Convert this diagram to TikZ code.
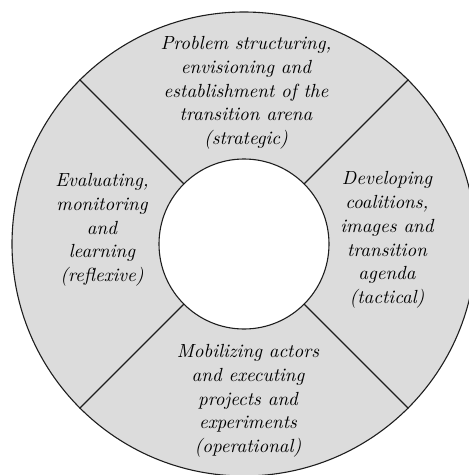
\documentclass[tikz,border=0pt]{standalone}
\usepackage{fontspec}
\newfontfamily\tenit{lmroman10-italic.otf}
\definecolor{ringgray}{RGB}{220,220,220}
\definecolor{edgecol}{RGB}{30,30,30}
\tikzset{
  ringline/.style={draw=edgecol, line width=1.1pt},
  phase/.style={align=center, inner sep=0pt, font=\fontsize{19}{23.7}\tenit}
}
\begin{document}
\begin{tikzpicture}[x=1pt,y=-1pt]
\useasboundingbox (0,0) rectangle (469,475);
\clip (0,0) rectangle (469,475);
\node[circle, ringline, fill=ringgray, minimum size=464pt, inner sep=0pt] (ring) at (244,244) {};
\node[circle, minimum size=170pt, inner sep=0pt] (hubpos) at (244,244) {};
\draw[ringline] (hubpos.135) -- (ring.135);
\draw[ringline] (hubpos.45) -- (ring.45);
\draw[ringline] (hubpos.225) -- (ring.225);
\draw[ringline] (hubpos.315) -- (ring.315);
\node[circle, ringline, fill=white, minimum size=170pt, inner sep=0pt] (hub) at (244,244) {};
\node[phase] (top) at (246,93) {Problem structuring,\\envisioning and\\establishment of the\\transition arena\\(strategic)};
\node[phase] (right) at (387,240) {Developing\\coalitions,\\images and\\transition\\agenda\\(tactical)};
\node[phase] (left) at (102,230) {Evaluating,\\monitoring\\and\\learning\\(reflexive)};
\node[phase] (bottom) at (248,401) {Mobilizing actors\\and executing\\projects and\\experiments\\(operational)};
\end{tikzpicture}
\end{document}
